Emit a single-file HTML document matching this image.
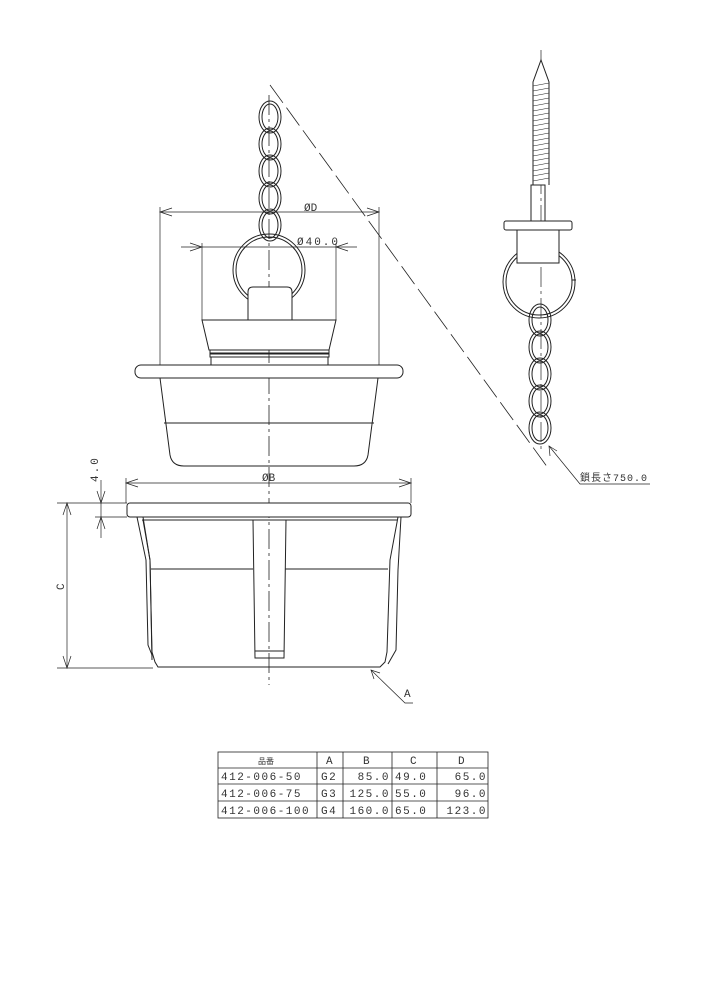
<!DOCTYPE html>
<html><head><meta charset="utf-8"><style>
html,body{margin:0;padding:0;background:#fff}
svg{display:block}
text{font-family:"Liberation Mono","Noto Sans CJK JP",monospace;fill:#333}
</style></head><body>
<svg width="706" height="1000" viewBox="0 0 706 1000" xmlns="http://www.w3.org/2000/svg">
<g fill="none" stroke="#222" stroke-width="1">
<!-- dashed diagonal -->
<line x1="270" y1="85" x2="548" y2="468" stroke-dasharray="22,6" stroke-width="0.8"/>
<!-- centerlines -->
<line x1="269" y1="95" x2="269" y2="685" stroke-dasharray="20,4,3,4" stroke-width="0.8"/>
<!-- chain main -->
<g stroke-width="1">
<ellipse cx="270" cy="117" rx="11" ry="16"/><ellipse cx="270" cy="117" rx="8" ry="13"/>
<ellipse cx="270" cy="144" rx="11" ry="16"/><ellipse cx="270" cy="144" rx="8" ry="13"/>
<ellipse cx="270" cy="171" rx="11" ry="16"/><ellipse cx="270" cy="171" rx="8" ry="13"/>
<ellipse cx="270" cy="198" rx="11" ry="16"/><ellipse cx="270" cy="198" rx="8" ry="13"/>
<ellipse cx="270" cy="225" rx="11" ry="16"/><ellipse cx="270" cy="225" rx="8" ry="13"/>
</g>
<!-- ring -->
<circle cx="269" cy="270" r="36"/><circle cx="269" cy="270" r="33"/>
<!-- knob -->
<path d="M248,320 L248,292 Q248,287 253,287 L287,287 Q292,287 292,292 L292,320" fill="#fff"/>
<!-- stopper -->
<path d="M202,320 L336,320 L329,350 L209,350 Z" fill="#fff"/>
<rect x="210" y="350" width="119" height="3"/>
<rect x="210" y="354" width="119" height="3"/>
<rect x="211" y="357" width="117" height="8"/>
<!-- cap flange -->
<rect x="135" y="365" width="268" height="13" rx="6" fill="#fff"/>
<path d="M160,378 L170,455 Q172,466 184,466 L354,466 Q366,466 368,455 L378,378"/>
<line x1="164" y1="423" x2="374" y2="423"/>
<!-- dims D -->
<g stroke-width="0.7">
<line x1="160" y1="207" x2="160" y2="365"/><line x1="379" y1="207" x2="379" y2="365"/>
<line x1="160" y1="212" x2="379" y2="212"/>
<path d="M172,208 L160,212 L172,216 M367,208 L379,212 L367,216"/>
<line x1="202" y1="243" x2="202" y2="320"/><line x1="336" y1="243" x2="336" y2="320"/>
<line x1="181" y1="247" x2="357" y2="247"/>
<path d="M190,243 L202,247 L190,251 M348,243 L336,247 L348,251"/>
</g>
<!-- bottom body -->
<g stroke-width="0.7">
<line x1="126" y1="478" x2="126" y2="503"/><line x1="411" y1="478" x2="411" y2="503"/>
<line x1="126" y1="483" x2="411" y2="483"/>
<path d="M138,479 L126,483 L138,487 M399,479 L411,483 L399,487"/>
</g>
<rect x="127" y="503" width="284" height="14" rx="3" fill="#fff"/>
<path d="M137,517 L143,517 L150,560 L152,652 L155,662 L158,667 L380,667 L385,662 L387,652 L390,560 L398,517 L401,517 L398,570 L396,650 L388,664"/>
<path d="M137,517 L146,560 L148,645 L152,655"/>
<path d="M143,520 L150,560 L152,660"/>
<line x1="151" y1="569" x2="253" y2="569"/><line x1="285" y1="569" x2="388" y2="569"/>
<line x1="142" y1="520" x2="397" y2="520"/>
<path d="M253,520 L255,658 L284,658 L286,520"/>
<line x1="255" y1="651" x2="284" y2="651"/>
<!-- C dim -->
<g stroke-width="0.7">
<line x1="57" y1="503" x2="127" y2="503"/><line x1="57" y1="668" x2="153" y2="668"/>
<line x1="67" y1="503" x2="67" y2="668"/>
<path d="M63,515 L67,503 L71,515 M63,656 L67,668 L71,656"/>
<line x1="95" y1="517" x2="127" y2="517"/>
<line x1="101" y1="480" x2="101" y2="538"/>
<path d="M97,491 L101,503 L105,491 M97,529 L101,517 L105,529"/>
<!-- A leader -->
<path d="M371,670 L405,703 L413,703"/>
<path d="M374,679 L371,670 L380,673"/>
</g>
<!-- right assembly -->
<line x1="541" y1="50" x2="541" y2="450" stroke-dasharray="20,4,3,4" stroke-width="0.7"/>
<circle cx="539" cy="282" r="36"/><circle cx="539" cy="282" r="33"/>
<line x1="572" y1="280" x2="576" y2="280"/>
<path d="M533,185 L533,82 L541,60 L549,82 L549,185" fill="#fff"/>
<g stroke-width="0.6">
<path d="M533,86 L549,83 M533,91 L549,88 M533,96 L549,93 M533,101 L549,98 M533,106 L549,103 M533,111 L549,108 M533,116 L549,113 M533,121 L549,118 M533,126 L549,123 M533,131 L549,128 M533,136 L549,133 M533,141 L549,138 M533,146 L549,143 M533,151 L549,148 M533,156 L549,153 M533,161 L549,158 M533,166 L549,163 M533,171 L549,168 M533,176 L549,173 M533,181 L549,178"/>
</g>
<rect x="531" y="185" width="14" height="36"/>
<rect x="504" y="221" width="68" height="9" rx="2" fill="#fff"/>
<rect x="517" y="230" width="42" height="33" fill="#fff"/>
<ellipse cx="540" cy="320" rx="11" ry="16"/><ellipse cx="540" cy="320" rx="8" ry="13"/>
<ellipse cx="540" cy="347" rx="11" ry="16"/><ellipse cx="540" cy="347" rx="8" ry="13"/>
<ellipse cx="540" cy="374" rx="11" ry="16"/><ellipse cx="540" cy="374" rx="8" ry="13"/>
<ellipse cx="540" cy="401" rx="11" ry="16"/><ellipse cx="540" cy="401" rx="8" ry="13"/>
<ellipse cx="540" cy="428" rx="11" ry="16"/><ellipse cx="540" cy="428" rx="8" ry="13"/>
<g stroke-width="0.7">
<path d="M549,446 L580,484 L650,484"/>
<path d="M550,456 L549,446 L557,451"/>
</g>
<!-- table -->
<g stroke-width="0.8">
<rect x="218" y="752" width="270" height="66"/>
<line x1="218" y1="768" x2="488" y2="768"/>
<line x1="218" y1="784" x2="488" y2="784"/>
<line x1="218" y1="801" x2="488" y2="801"/>
<line x1="317" y1="752" x2="317" y2="818"/>
<line x1="343" y1="752" x2="343" y2="818"/>
<line x1="392" y1="752" x2="392" y2="818"/>
<line x1="437" y1="752" x2="437" y2="818"/>
</g>
</g>
<g font-size="11">
<text x="304" y="211">ØD</text>
<text x="297" y="245" letter-spacing="2">Ø40.0</text>
<text x="262" y="481">ØB</text>
<text x="64" y="590" transform="rotate(-90 64 590)">C</text>
<text x="98" y="482" transform="rotate(-90 98 482)" letter-spacing="2">4.0</text>
<text x="404" y="697">A</text>
<text x="580" y="481" font-size="10" letter-spacing="1">鎖長さ750.0</text>
<text x="258" y="764" font-size="8">品番</text>
<text x="326" y="764">A</text>
<text x="363" y="764">B</text>
<text x="410" y="764">C</text>
<text x="458" y="764">D</text>
<g letter-spacing="1.5" font-size="11">
<text x="221" y="780">412-006-50</text>
<text x="221" y="797">412-006-75</text>
<text x="221" y="814">412-006-100</text>
<text x="321" y="780">G2</text><text x="321" y="797">G3</text><text x="321" y="814">G4</text>
<text x="390" y="780" text-anchor="end">85.0</text>
<text x="390" y="797" text-anchor="end">125.0</text>
<text x="390" y="814" text-anchor="end">160.0</text>
<text x="395" y="780">49.0</text><text x="395" y="797">55.0</text><text x="395" y="814">65.0</text>
<text x="487" y="780" text-anchor="end">65.0</text>
<text x="487" y="797" text-anchor="end">96.0</text>
<text x="487" y="814" text-anchor="end">123.0</text>
</g>
</g>
</svg>
</body></html>
